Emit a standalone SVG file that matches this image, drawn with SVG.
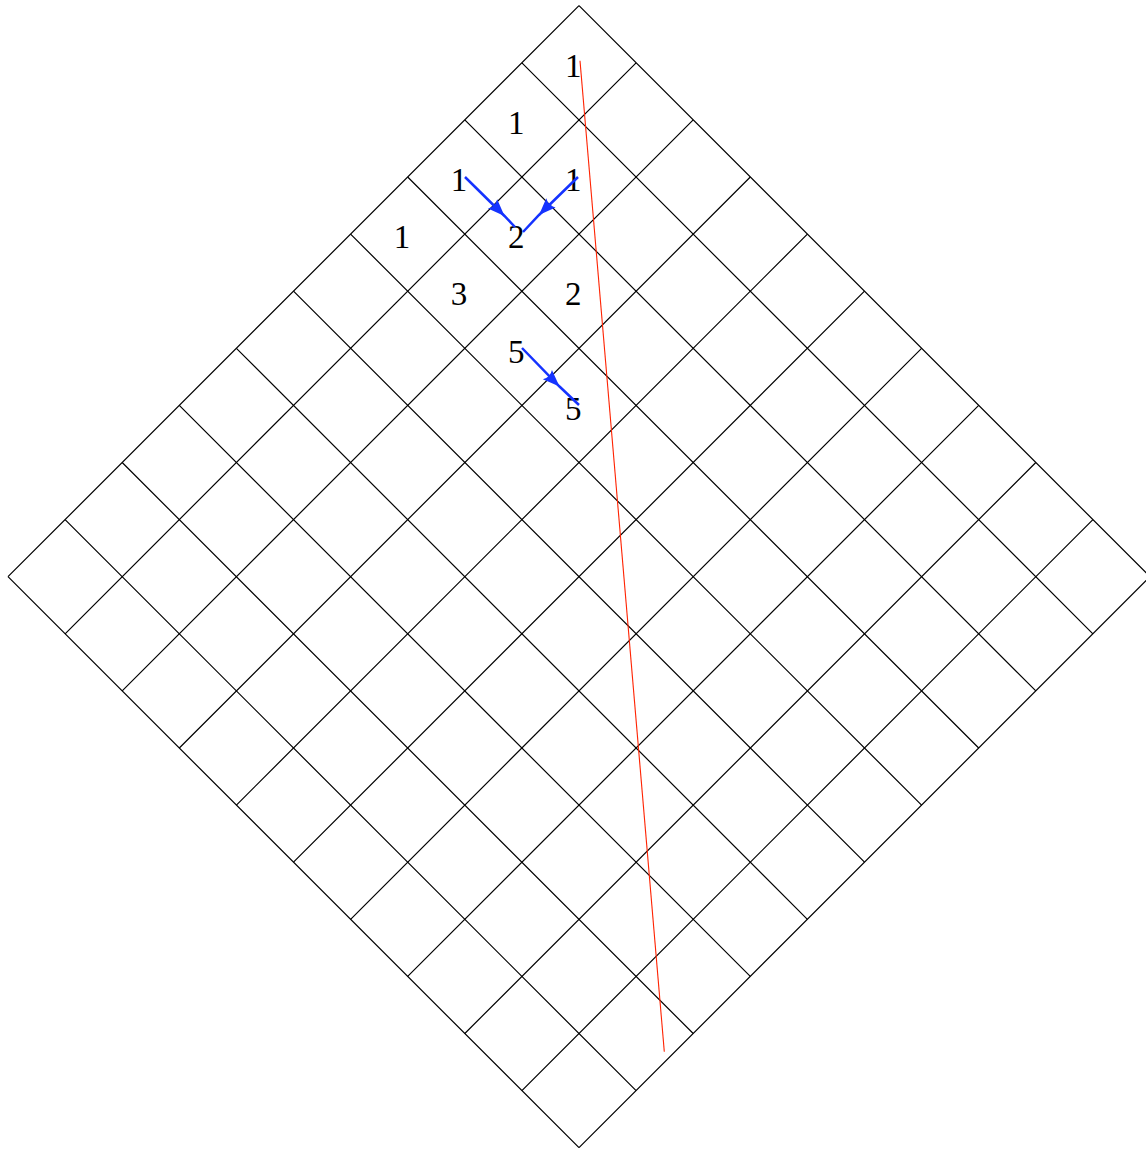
<svg xmlns="http://www.w3.org/2000/svg" width="1146" height="1149" viewBox="0 0 1146 1149">
<style>
.grid{stroke:#000;stroke-width:1.2;fill:none}
.num{font-family:"Liberation Serif","Times New Roman",serif;font-size:33px;fill:#000;text-anchor:middle}
.arr{stroke:#1533ff;stroke-width:2.5;fill:none;marker-mid:url(#ah)}
.red{stroke:#ff2200;stroke-width:1.1;fill:none}
</style>
<defs>
<marker id="ah" markerUnits="userSpaceOnUse" orient="auto" refX="0" refY="0" markerWidth="30" markerHeight="30" viewBox="-20 -10 30 20" overflow="visible">
<path d="M0,0 L-17,-6.5 Q-13,0 -17,6.5 Z" fill="#1533ff"/>
</marker>
</defs>
<rect width="1146" height="1149" fill="#fff"/>
<g id="grid" class="grid">
<path d="M579,5.7L1150,576.7M521.9,62.8L1092.9,633.8M464.8,119.9L1035.8,690.9M407.7,177L978.7,748M350.6,234.1L921.6,805.1M293.5,291.2L864.5,862.2M236.4,348.3L807.4,919.3M179.3,405.4L750.3,976.4M122.2,462.5L693.2,1033.5M65.1,519.6L636.1,1090.6M8,576.7L579,1147.7"/>
<path d="M579,5.7L8,576.7M636.1,62.8L65.1,633.8M693.2,119.9L122.2,690.9M750.3,177L179.3,748M807.4,234.1L236.4,805.1M864.5,291.2L293.5,862.2M921.6,348.3L350.6,919.3M978.7,405.4L407.7,976.4M1035.8,462.5L464.8,1033.5M1092.9,519.6L521.9,1090.6M1150,576.7L579,1147.7"/>
</g>
<g id="n00"><text class="num" x="573.3" y="77">1</text></g>
<g id="n10"><text class="num" x="516.2" y="134">1</text></g>
<g id="n20"><text class="num" x="459.1" y="191.2">1</text></g>
<g id="n11"><text class="num" x="573.3" y="191.2">1</text></g>
<g id="n30"><text class="num" x="402" y="248.3">1</text></g>
<g id="n21"><text class="num" x="516.2" y="248.3">2</text></g>
<g id="n31"><text class="num" x="459.1" y="305.4">3</text></g>
<g id="n22"><text class="num" x="573.3" y="305.4">2</text></g>
<g id="n32"><text class="num" x="516.2" y="362.5">5</text></g>
<g id="n33"><text class="num" x="573.3" y="419.6">5</text></g>
<g id="connectors">
<path class="arr" d="M465,177 L504.5,216 L515,227"/>
<path class="arr" d="M578,177 L539,215 L523,232"/>
<path class="arr" d="M522,348 L559.5,386.5 L579,405"/>
<path class="red" d="M580,60.7 L664.3,1051.7"/>
</g>
</svg>
